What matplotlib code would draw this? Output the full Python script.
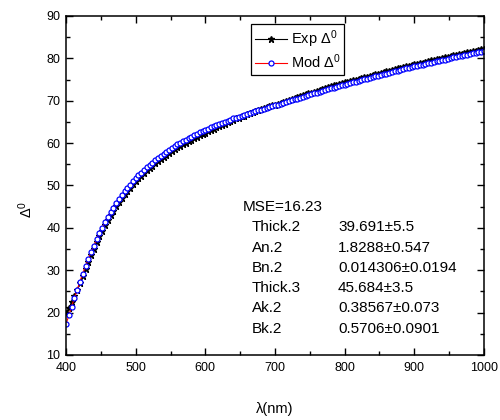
import numpy as np
import matplotlib.pyplot as plt
from matplotlib.ticker import MultipleLocator

plt.rcParams['font.family'] = ['Liberation Sans', 'DejaVu Sans']
plt.rcParams['mathtext.fontset'] = 'custom'
plt.rcParams['mathtext.rm'] = 'Liberation Sans'
plt.rcParams['mathtext.it'] = 'Liberation Sans:italic'

# wavelength grid (nm), 4 nm step
wl = np.arange(400, 1001, 4)

# model Delta0 (deg)
mod_delta = [
    17.2, 19.3, 21.4, 23.4, 25.3, 27.3, 29.2, 31.0, 32.6, 34.3,
    35.8, 37.3, 38.7, 40.0, 41.3, 42.5, 43.7, 44.7, 45.8, 46.8,
    47.7, 48.6, 49.4, 50.2, 51.0, 51.7, 52.4, 53.0, 53.7, 54.3,
    54.9, 55.4, 56.0, 56.5, 57.0, 57.5, 57.9, 58.4, 58.8, 59.3,
    59.7, 60.1, 60.5, 60.8, 61.2, 61.5, 61.9, 62.2, 62.5, 62.8,
    63.1, 63.4, 63.7, 64.0, 64.2, 64.5, 64.8, 65.0, 65.3, 65.5,
    65.8, 66.0, 66.2, 66.4, 66.6, 66.8, 67.1, 67.3, 67.5, 67.7,
    67.9, 68.1, 68.3, 68.5, 68.7, 68.9, 69.1, 69.3, 69.5, 69.7,
    69.9, 70.1, 70.3, 70.5, 70.7, 70.9, 71.1, 71.3, 71.5, 71.7,
    71.9, 72.1, 72.3, 72.5, 72.7, 72.9, 73.1, 73.3, 73.5, 73.6,
    73.8, 74.0, 74.2, 74.4, 74.5, 74.7, 74.9, 75.1, 75.2, 75.4,
    75.6, 75.8, 75.9, 76.1, 76.3, 76.4, 76.6, 76.8, 76.9, 77.1,
    77.3, 77.4, 77.6, 77.7, 77.9, 78.1, 78.2, 78.4, 78.5, 78.7,
    78.8, 79.0, 79.1, 79.3, 79.4, 79.6, 79.7, 79.9, 80.0, 80.2,
    80.3, 80.5, 80.6, 80.8, 80.9, 81.0, 81.2, 81.3, 81.5, 81.6,
    81.8,
]

# experimental Delta0 (deg)
exp_delta = [
    19.8, 21.0, 22.4, 23.8, 25.3, 27.0, 28.7, 30.3, 31.9, 33.6,
    35.1, 36.6, 38.0, 39.3, 40.6, 41.8, 43.0, 44.0, 45.1, 46.1,
    47.0, 47.9, 48.7, 49.5, 50.3, 51.0, 51.7, 52.3, 53.0, 53.6,
    54.2, 54.7, 55.3, 55.8, 56.3, 56.8, 57.2, 57.7, 58.1, 58.6,
    59.0, 59.4, 59.8, 60.1, 60.5, 60.8, 61.2, 61.5, 61.8, 62.1,
    62.4, 62.8, 63.1, 63.4, 63.7, 64.0, 64.3, 64.6, 64.9, 65.2,
    65.5, 65.8, 66.0, 66.3, 66.5, 66.8, 67.1, 67.4, 67.6, 67.8,
    68.0, 68.3, 68.5, 68.7, 68.9, 69.1, 69.3, 69.5, 69.8, 70.0,
    70.2, 70.4, 70.7, 70.9, 71.1, 71.3, 71.5, 71.7, 71.9, 72.1,
    72.3, 72.5, 72.8, 73.0, 73.2, 73.4, 73.6, 73.8, 74.0, 74.1,
    74.3, 74.5, 74.7, 74.9, 75.0, 75.2, 75.4, 75.6, 75.7, 75.9,
    76.1, 76.3, 76.4, 76.6, 76.8, 76.9, 77.1, 77.3, 77.4, 77.6,
    77.8, 77.9, 78.1, 78.2, 78.4, 78.6, 78.7, 78.9, 79.0, 79.2,
    79.3, 79.5, 79.6, 79.8, 79.9, 80.1, 80.2, 80.4, 80.5, 80.7,
    80.8, 81.0, 81.1, 81.3, 81.4, 81.5, 81.7, 81.8, 82.0, 82.1,
    82.3,
]

fit_names = ['Thick.2', 'An.2', 'Bn.2', 'Thick.3', 'Ak.2', 'Bk.2']
fit_values = ['39.691\u00b15.5', '1.8288\u00b10.547', '0.014306\u00b10.0194',
              '45.684\u00b13.5', '0.38567\u00b10.073', '0.5706\u00b10.0901']
mse_text = 'MSE=16.23'

fig = plt.figure(figsize=(5, 4.2), dpi=100)
ax = fig.add_axes([0.132, 0.155, 0.836, 0.807])

ax.plot(wl, exp_delta, color='black', lw=0.8, marker='*', ms=4.5,
        mfc='black', mec='black', label=r'Exp $\Delta^0$')
ax.plot(wl, mod_delta, color='red', lw=0.8, marker='o', ms=3.6,
        mfc='white', mec='blue', mew=0.9, label=r'Mod $\Delta^0$')

ax.set_xlim(400, 1000)
ax.set_ylim(10, 90)
ax.xaxis.set_major_locator(MultipleLocator(100))
ax.xaxis.set_minor_locator(MultipleLocator(50))
ax.yaxis.set_major_locator(MultipleLocator(10))
ax.yaxis.set_minor_locator(MultipleLocator(5))
ax.tick_params(which='both', direction='in', top=True, right=True,
               labelsize=9, width=1)
ax.tick_params(which='major', length=5)
ax.tick_params(which='minor', length=3)
ax.tick_params(axis='x', pad=5)
ax.tick_params(axis='y', pad=4)
for sp in ax.spines.values():
    sp.set_linewidth(1.1)

ax.set_xlabel('\u03bb(nm)', fontsize=10.5, labelpad=20)
ax.set_ylabel(r'$\Delta^0$', fontsize=10.5)
ax.yaxis.set_label_coords(-0.075, 0.43)

leg = ax.legend(loc='upper left', bbox_to_anchor=(0.443, 0.975), fontsize=10.5,
                fancybox=False, edgecolor='black', framealpha=1,
                handlelength=2.2, borderpad=0.25, labelspacing=0.2,
                handletextpad=0.27, borderaxespad=0)
leg.get_frame().set_linewidth(0.9)

fig.text(243 / 500, 1 - 207 / 420, mse_text, fontsize=11, va='center')
row_y = [227, 248, 268, 288, 308, 329]
for name, val, yy in zip(fit_names, fit_values, row_y):
    fig.text(252 / 500, 1 - yy / 420, name, fontsize=11, va='center')
    fig.text(338 / 500, 1 - yy / 420, val, fontsize=11, va='center')

fig.savefig('out.png', dpi=100)
